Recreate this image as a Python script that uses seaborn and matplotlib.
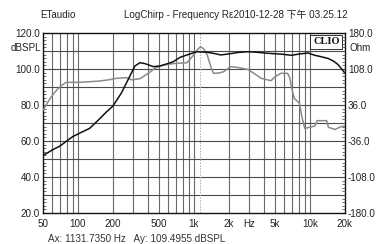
import numpy as np
import pandas as pd
import matplotlib
matplotlib.use("Agg")
import matplotlib.pyplot as plt
import seaborn as sns
from matplotlib.ticker import FixedLocator, MultipleLocator, NullFormatter

# frecuencias y niveles
freq_spl = [50, 54, 60, 70, 80, 90, 103, 126, 153, 175, 200, 236, 270, 310, 342,
            378, 446, 510, 580, 660, 760, 870, 1060, 1131, 1300, 1500, 1700, 2000,
            2400, 2900, 3500, 4200, 4900, 5800, 6900, 8000, 9600, 11000, 12500,
            14400, 16000, 17400, 19000, 20000]
spl_black = [52, 53.2, 55, 57.2, 60, 62.4, 64.3, 67, 72.2, 76, 79.4, 86.5, 94, 101.7,
             103.5, 103, 101.3, 101.7, 102.8, 104, 106.5, 107.8, 109.6, 109.5, 109.3,
             108.6, 107.8, 108.4, 109.2, 109.6, 109.3, 108.8, 108.5, 108.2, 107.6,
             108.3, 108.9, 107.6, 106.8, 105.8, 104.3, 102.5, 99.5, 97.6]

freq_gray = [50, 56.5, 63, 70, 79, 103, 130, 153, 185, 214, 262, 290, 342, 404, 460,
             546, 660, 870, 993, 1080, 1140, 1220, 1300, 1400, 1470, 1650, 1800, 2070,
             2400, 2900, 3300, 3800, 4600, 5000, 5600, 6400, 6700, 6900, 7300, 8100,
             8500, 9000, 11000, 11500, 13900, 14400, 16400, 18500, 20000]
spl_gray = [77, 82.8, 87, 90.2, 92.6, 92.6, 93.0, 93.3, 94.0, 94.8, 95.2, 94, 94.6,
            97.6, 100.4, 102.2, 103, 103.5, 107.8, 111, 112.4, 111, 107.8, 101, 97.6,
            97.8, 98.5, 101.3, 100.8, 99.8, 97.5, 94.8, 93.5, 95.7, 97.6, 97.6, 95,
            90.2, 83.7, 81, 73.5, 67, 68.3, 71.3, 71.3, 67.6, 66.4, 68, 68.3]

x_ticks = [50, 100, 200, 500, 1000, 2000, 3000, 5000, 10000, 20000]
x_labels = ["50", "100", "200", "500", "1k", "2k", "Hz", "5k", "10k", "20k"]
left_ticks = [20, 40, 60, 80, 100, 120]
left_labels = ["20.0", "40.0", "60.0", "80.0", "100.0", "120.0"]
right_ticks = [-180, -108, -36, 36, 108, 180]
right_labels = ["-180.0", "-108.0", "-36.0", "36.0", "108.0", "180.0"]
cursor_hz = 1131.735
cursor_db = 109.4955

sns.set_theme(style="white")
plt.rcParams["font.family"] = ["Liberation Sans", "Noto Sans CJK SC", "DejaVu Sans"]

fs = 7.1
txt_color = "#222222"

fig = plt.figure(figsize=(3.77, 2.44), dpi=100)
ax = fig.add_axes([43 / 377, 1 - 213 / 244, 302 / 377, 180 / 244])

# rejilla logaritmica
grid_x = [f * d for d in (10, 100, 1000, 10000) for f in range(1, 10)]
grid_x = [g for g in grid_x if 50 < g < 20000]
for g in grid_x:
    ax.axvline(g, color="#6a6a6a", lw=0.8, zorder=1)
for h in range(30, 120, 10):
    ax.axhline(h, color="#4a4a4a", lw=0.8, zorder=1)
ax.axvline(cursor_hz, color="#aaaaaa", lw=0.7, ls=(0, (1.5, 1.5)), zorder=1)

df_gray = pd.DataFrame({"freq": freq_gray, "spl": spl_gray})
df_black = pd.DataFrame({"freq": freq_spl, "spl": spl_black})
sns.lineplot(data=df_gray, x="freq", y="spl", ax=ax, color="#8a8a8a", lw=1.1,
             sort=False, zorder=3)
sns.lineplot(data=df_black, x="freq", y="spl", ax=ax, color="#111111", lw=1.1,
             sort=False, zorder=4)

ax.set_xscale("log")
ax.set_xlim(50, 20000)
ax.set_ylim(20, 120)
ax.set_xlabel("")
ax.set_ylabel("")
ax.xaxis.set_major_locator(FixedLocator(x_ticks))
ax.set_xticklabels(x_labels)
ax.xaxis.set_minor_formatter(NullFormatter())
ax.tick_params(axis="x", which="both", length=0, labelsize=fs, pad=4, colors=txt_color)
ax.set_yticks(left_ticks)
ax.set_yticklabels(left_labels)
ax.yaxis.set_minor_locator(MultipleLocator(2))
ax.tick_params(axis="y", which="major", length=0, labelsize=fs, pad=2, colors=txt_color)
ax.tick_params(axis="y", which="minor", left=True, direction="in", length=2.5,
               width=0.6, color="#555555")
for s in ax.spines.values():
    s.set_color("#111111")
    s.set_linewidth(1.0)

ax2 = ax.twinx()
ax2.set_ylim(-180, 180)
ax2.set_yticks(right_ticks)
ax2.set_yticklabels(right_labels)
ax2.yaxis.set_minor_locator(MultipleLocator(7.2))
ax2.tick_params(axis="y", which="major", length=0, labelsize=fs, pad=2, colors=txt_color)
ax2.tick_params(axis="y", which="minor", right=True, direction="in", length=2.5,
                width=0.6, color="#555555")
ax2.grid(False)
for s in ax2.spines.values():
    s.set_visible(False)

# textos
fig.text(40 / 377, 1 - 15 / 244, "ETaudio", fontsize=fs, color=txt_color, va="center")
fig.text(124 / 377, 1 - 15 / 244, "LogChirp - Frequency Rε2010-12-28 下午 03.25.12",
         fontsize=fs, color=txt_color, va="center")
fig.text(41 / 377, 1 - 48 / 244, "dBSPL", fontsize=fs, color=txt_color,
         ha="right", va="center")
fig.text(349 / 377, 1 - 48 / 244, "Ohm", fontsize=fs, color=txt_color,
         ha="left", va="center")
fig.text(48 / 377, 1 - 239 / 244,
         f"Ax: {cursor_hz:.4f} Hz   Ay: {cursor_db:.4f} dBSPL",
         fontsize=fs, color="#333333", va="center")
ax.text(0.982, 0.975, "CLIO", transform=ax.transAxes, ha="right", va="top",
        fontsize=7.5, fontweight="bold", family="Liberation Serif", color="#111111",
        zorder=6, bbox=dict(boxstyle="square,pad=0.25", fc="white", ec="#111111", lw=0.6))

fig.savefig("out.png", dpi=100)
